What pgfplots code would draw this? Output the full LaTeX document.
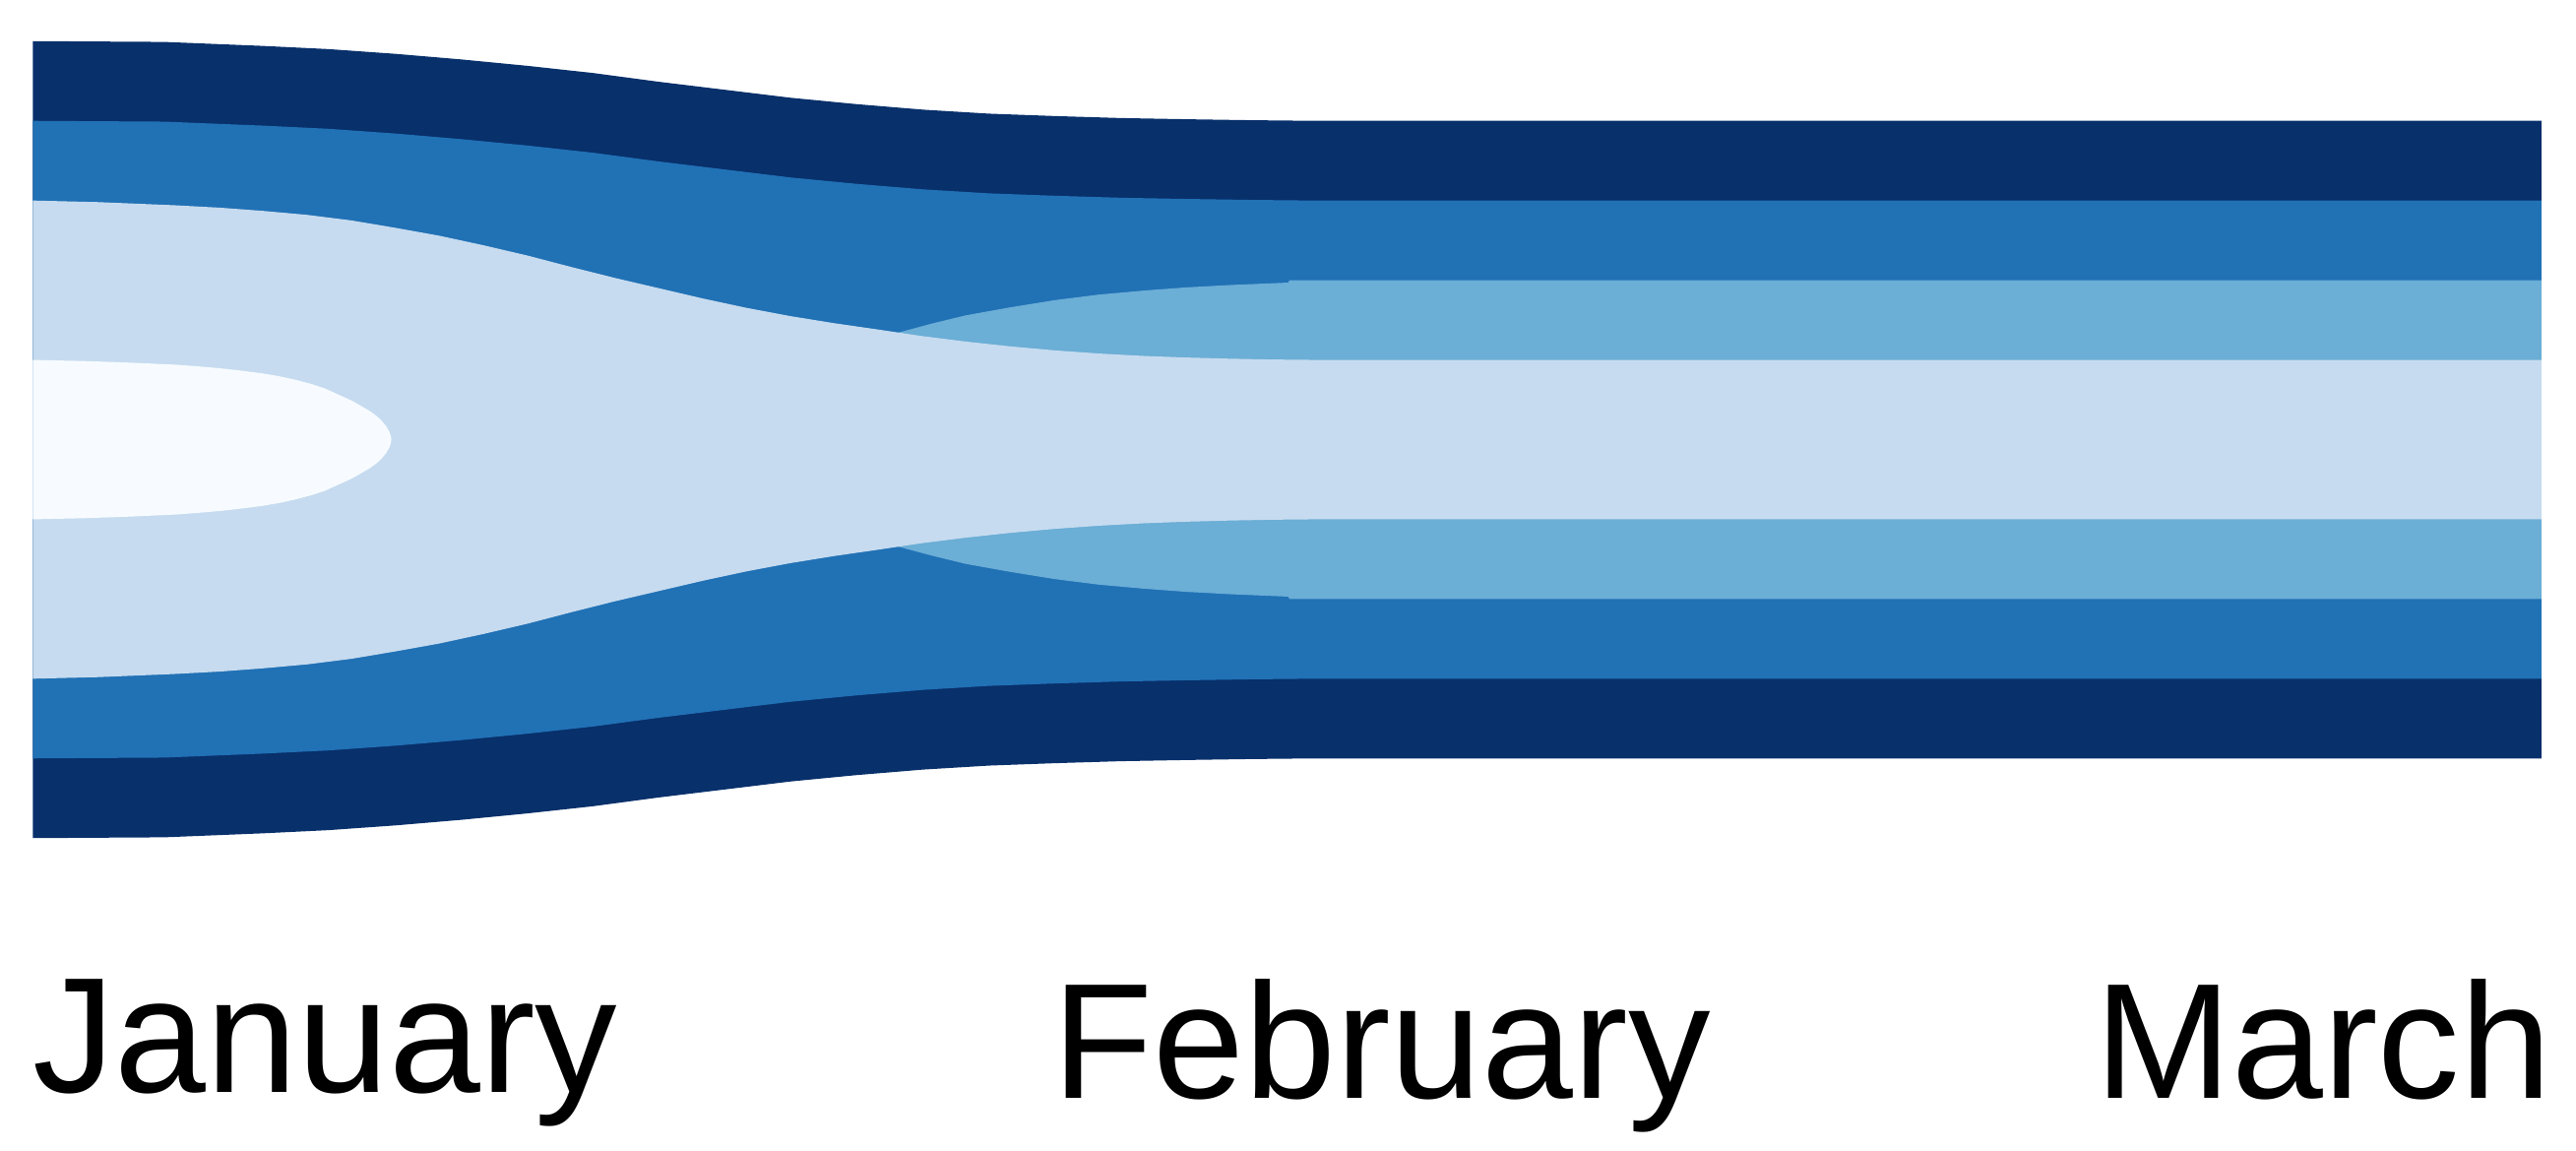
\documentclass[border=0pt]{standalone}
\usepackage{fontspec}
\setmainfont{Liberation Sans}
\usepackage{pgfplots}
\pgfplotsset{compat=1.18}
\definecolor{c1}{HTML}{08306B}
\definecolor{c2}{HTML}{2171B5}
\definecolor{c3}{HTML}{6BAED6}
\definecolor{c4}{HTML}{C6DBEF}
\definecolor{c5}{HTML}{F7FBFF}
\begin{document}
\begin{tikzpicture}
\path[use as bounding box] (-5pt,-47.5pt) rectangle (387pt,127.5pt);
\begin{axis}[
  at={(0,0)}, anchor=south west,
  scale only axis, width=381.75pt, height=121.25pt,
  xmin=20, xmax=1547, ymin=-5, ymax=5,
  clip=false,
  axis line style={draw=none},
  ytick=\empty,
  xtick={20,841,1547},
  xticklabels={\makebox[0pt][l]{January}, February, \makebox[0pt][r]{March\kern-1.5pt}},
  major tick length=0pt,
  tick style={draw=none},
  xticklabel style={anchor=north, inner sep=0pt, yshift=-21.25pt, font=\fontsize{25}{30}\selectfont},
]
% outermost layer (navy)
\addplot[fill=c1, draw=none] coordinates {
(20,5.0) (100,4.99) (160,4.94) (200,4.90) (241,4.84) (281,4.77) (321,4.69) (361,4.60) (401,4.49) (441,4.39) (481,4.29) (521,4.21) (562,4.14) (602,4.09) (642,4.06) (682,4.035) (722,4.02) (761,4.008) (800,4.0) (1547,4.0)
(1547,-4.0) (800,-4.0) (761,-4.008) (722,-4.02) (682,-4.035) (642,-4.06) (602,-4.09) (562,-4.14) (521,-4.21) (481,-4.29) (441,-4.39) (401,-4.49) (361,-4.60) (321,-4.69) (281,-4.77) (241,-4.84) (200,-4.90) (160,-4.94) (100,-4.99) (20,-5.0)
};
% second layer (blue)
\addplot[fill=c2, draw=none] coordinates {
(20,4.0) (100,3.99) (160,3.94) (200,3.90) (241,3.84) (281,3.77) (321,3.69) (361,3.60) (401,3.49) (441,3.39) (481,3.29) (521,3.21) (562,3.14) (602,3.09) (642,3.06) (682,3.035) (722,3.02) (761,3.008) (800,3.0) (1547,3.0)
(1547,-3.0) (800,-3.0) (761,-3.008) (722,-3.02) (682,-3.035) (642,-3.06) (602,-3.09) (562,-3.14) (521,-3.21) (481,-3.29) (441,-3.39) (401,-3.49) (361,-3.60) (321,-3.69) (281,-3.77) (241,-3.84) (200,-3.90) (160,-3.94) (100,-3.99) (20,-4.0)
};
% third layer (light blue)
\addplot[fill=c3, draw=none] coordinates {
(480,1.0) (520,1.2) (548,1.35) (568,1.46) (588,1.56) (615,1.66) (642,1.75) (669,1.82) (696,1.87) (722,1.91) (749,1.94) (784,1.97) (785,2.0) (1547,2.0)
(1547,-2.0) (785,-2.0) (784,-1.97) (749,-1.94) (722,-1.91) (696,-1.87) (669,-1.82) (642,-1.75) (615,-1.66) (588,-1.56) (568,-1.46) (548,-1.35) (520,-1.2) (480,-1.0)
};
% fourth layer (pale blue)
\addplot[fill=c4, draw=none] coordinates {
(20,3.0) (60,2.98) (107,2.94) (134,2.91) (160,2.87) (187,2.82) (214,2.75) (240,2.66) (267,2.56) (294,2.44) (321,2.31) (347,2.17) (374,2.03) (401,1.90) (428,1.77) (454,1.655) (481,1.55) (508,1.46) (535,1.38) (561,1.30) (588,1.23) (615,1.17) (642,1.12) (669,1.08) (696,1.05) (722,1.03) (749,1.015) (775,1.005) (800,1.0) (1547,1.0)
(1547,-1.0) (800,-1.0) (775,-1.005) (749,-1.015) (722,-1.03) (696,-1.05) (669,-1.08) (642,-1.12) (615,-1.17) (588,-1.23) (561,-1.30) (535,-1.38) (508,-1.46) (481,-1.55) (454,-1.655) (428,-1.77) (401,-1.90) (374,-2.03) (347,-2.17) (321,-2.31) (294,-2.44) (267,-2.56) (240,-2.66) (214,-2.75) (187,-2.82) (160,-2.87) (134,-2.91) (107,-2.94) (60,-2.98) (20,-3.0)
};
% innermost layer (very pale)
\addplot[fill=c5, draw=none] coordinates {
(20,1.0) (53,0.985) (80,0.965) (107,0.94) (120,0.92) (134,0.895) (147,0.865) (160,0.83) (170,0.795) (180,0.75) (190,0.695) (198,0.64) (206,0.565) (214,0.49) (220,0.42) (225,0.36) (229,0.30) (232,0.245) (235,0.17) (237,0.10) (238,0.04) (238.2,0.0)
(238,-0.04) (237,-0.10) (235,-0.17) (232,-0.245) (229,-0.30) (225,-0.36) (220,-0.42) (214,-0.49) (206,-0.565) (198,-0.64) (190,-0.695) (180,-0.75) (170,-0.795) (160,-0.83) (147,-0.865) (134,-0.895) (120,-0.92) (107,-0.94) (80,-0.965) (53,-0.985) (20,-1.0)
};
\end{axis}
\end{tikzpicture}
\end{document}
